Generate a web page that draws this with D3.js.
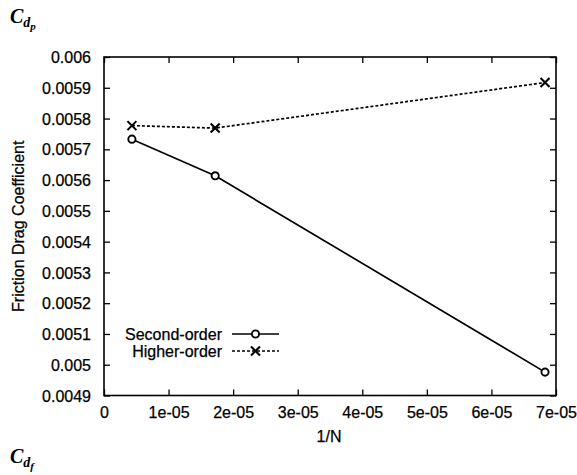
<!DOCTYPE html>
<html>
<head>
<meta charset="utf-8">
<script src="https://cdn.jsdelivr.net/npm/d3@7"></script>
<style>
  html, body { margin: 0; padding: 0; background: #fff; }
  svg { display: block; }
  .tick text { font-family: "Liberation Sans", Arial, sans-serif; font-size: 16px; fill: #000; stroke: #000; stroke-width: 0.25px; }
  .lbl { font-family: "Liberation Sans", Arial, sans-serif; font-size: 16px; fill: #000; stroke: #000; stroke-width: 0.25px; }
</style>
</head>
<body>
<svg id="chart" width="577" height="475"></svg>
<script>
// Grid spacing 1/N for the three meshes
const invN = [1 / 231361, 1 / 58081, 1 / 14641];
const secondOrder = [0.005733, 0.005614, 0.004976];
const higherOrder = [0.005777, 0.005769, 0.005917];
const seriesNames = ["Second-order", "Higher-order"];
const xTicks = [0, 1e-5, 2e-5, 3e-5, 4e-5, 5e-5, 6e-5, 7e-5];
const xTickLabels = ["0", "1e-05", "2e-05", "3e-05", "4e-05", "5e-05", "6e-05", "7e-05"];
const yTicks = [0.0049, 0.005, 0.0051, 0.0052, 0.0053, 0.0054, 0.0055, 0.0056, 0.0057, 0.0058, 0.0059, 0.006];
const yTickLabels = ["0.0049", "0.005", "0.0051", "0.0052", "0.0053", "0.0054", "0.0055", "0.0056", "0.0057", "0.0058", "0.0059", "0.006"];

const svg = d3.select("#chart");
const plotL = 104, plotR = 556, plotT = 57, plotB = 395.5;
const x = d3.scaleLinear().domain([0, 7e-5]).range([plotL, plotR]);
const y = d3.scaleLinear().domain([0.0049, 0.006]).range([plotB, plotT]);

// Axes with inward ticks on all four sides
const tk = 6;
const gx = svg.append("g").attr("transform", `translate(0,${plotB})`)
  .call(d3.axisBottom(x).tickValues(xTicks).tickFormat((d, i) => xTickLabels[i]).tickSizeInner(-tk).tickSizeOuter(0).tickPadding(11));
const gy = svg.append("g").attr("transform", `translate(${plotL},0)`)
  .call(d3.axisLeft(y).tickValues(yTicks).tickFormat((d, i) => yTickLabels[i]).tickSizeInner(-tk).tickSizeOuter(0).tickPadding(13));
const gxt = svg.append("g").attr("transform", `translate(0,${plotT})`)
  .call(d3.axisTop(x).tickValues(xTicks).tickFormat("").tickSizeInner(-tk).tickSizeOuter(0));
const gyr = svg.append("g").attr("transform", `translate(${plotR},0)`)
  .call(d3.axisRight(y).tickValues(yTicks).tickFormat("").tickSizeInner(-tk).tickSizeOuter(0));
[gx, gy, gxt, gyr].forEach(g => {
  g.select(".domain").remove();
  g.selectAll(".tick line").attr("stroke", "#000").attr("stroke-width", 1.3);
});
gy.selectAll(".tick text").attr("dy", "0.35em");

svg.append("rect")
  .attr("x", plotL).attr("y", plotT).attr("width", plotR - plotL).attr("height", plotB - plotT)
  .attr("fill", "none").attr("stroke", "#000").attr("stroke-width", 1.6);

// Axis titles
svg.append("text").attr("class", "lbl").attr("x", (plotL + plotR) / 2 - 1).attr("y", 442)
  .attr("text-anchor", "middle").text("1/N");
svg.append("text").attr("class", "lbl").attr("transform", `translate(24,${(plotT + plotB) / 2}) rotate(-90)`)
  .attr("text-anchor", "middle").text("Friction Drag Coefficient");

// Series
const pts = arr => arr.map((v, i) => [x(invN[i]), y(v)]);
const line = d3.line();
const soPts = pts(secondOrder), hoPts = pts(higherOrder);

svg.append("path").attr("d", line(soPts)).attr("fill", "none").attr("stroke", "#000").attr("stroke-width", 1.7);
svg.append("path").attr("d", line(hoPts)).attr("fill", "none").attr("stroke", "#000").attr("stroke-width", 1.7)
  .attr("stroke-dasharray", "3,2");

function circleMark(g, cx, cy) {
  g.append("circle").attr("cx", cx).attr("cy", cy).attr("r", 3.6)
    .attr("fill", "#fff").attr("stroke", "#000").attr("stroke-width", 1.9);
}
function crossMark(g, cx, cy) {
  const s = 4.5;
  g.append("path").attr("d", `M${cx - s},${cy - s}L${cx + s},${cy + s}M${cx - s},${cy + s}L${cx + s},${cy - s}`)
    .attr("stroke", "#000").attr("stroke-width", 2.1).attr("fill", "none");
}
soPts.forEach(p => circleMark(svg, p[0], p[1]));
hoPts.forEach(p => crossMark(svg, p[0], p[1]));

// Legend
const legX = 222, sampleL = 232, sampleR = 279;
const legRows = [334, 351];
seriesNames.forEach((name, i) => {
  const ly = legRows[i];
  svg.append("text").attr("class", "lbl").attr("x", legX).attr("y", ly).attr("dy", "0.35em")
    .attr("text-anchor", "end").text(name);
  const l = svg.append("line").attr("x1", sampleL).attr("x2", sampleR).attr("y1", ly).attr("y2", ly)
    .attr("stroke", "#000").attr("stroke-width", 1.6);
  if (i === 1) l.attr("stroke-dasharray", "3,2");
  const mx = (sampleL + sampleR) / 2;
  if (i === 0) circleMark(svg, mx, ly); else crossMark(svg, mx, ly);
});

// Panel symbols
function coefLabel(xp, yp, sub2) {
  const t = svg.append("text").attr("x", xp).attr("y", yp)
    .attr("font-family", '"Liberation Serif", "Times New Roman", serif')
    .attr("font-weight", "bold").attr("font-style", "italic");
  t.append("tspan").attr("font-size", 20).text("C");
  t.append("tspan").attr("font-size", 14).attr("dy", 4).text("d");
  t.append("tspan").attr("font-size", 11).attr("dy", 3).text(sub2);
}
coefLabel(10, 23, "p");
coefLabel(10, 463, "f");
</script>
</body>
</html>
